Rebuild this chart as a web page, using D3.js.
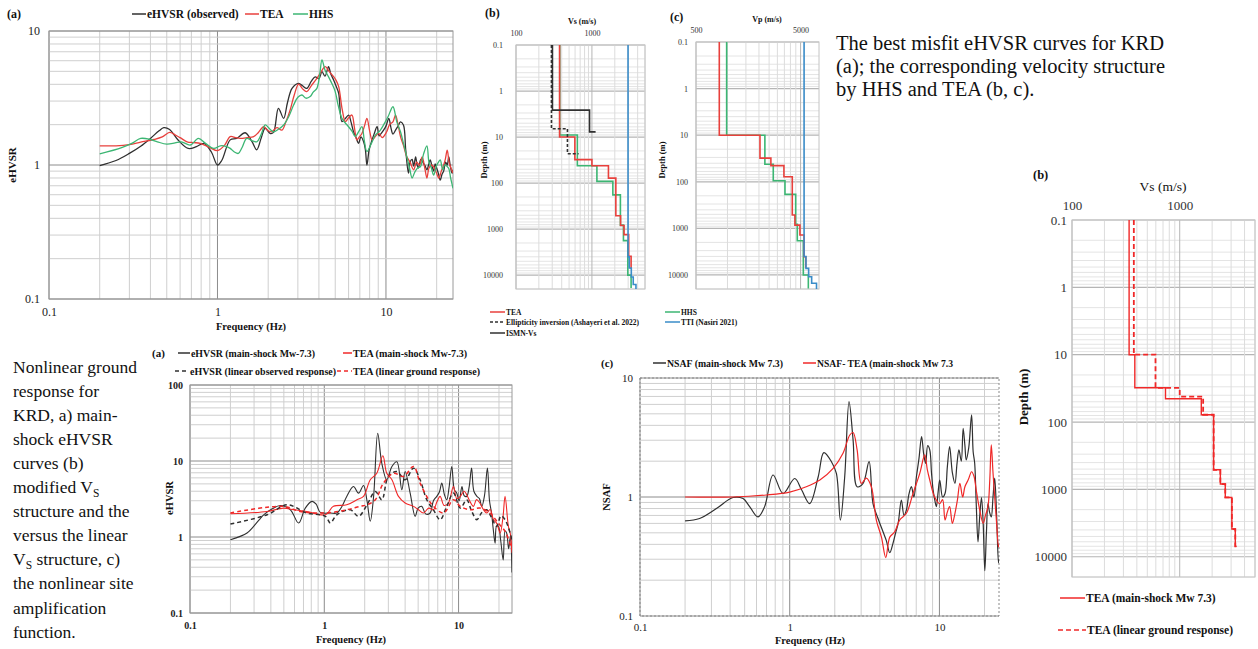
<!doctype html>
<html lang="en">
<head>
<meta charset="utf-8">
<title>KRD eHVSR curves and velocity structure</title>
<script src="https://d3js.org/d3.v7.min.js"></script>
<style>
  body { margin: 0; background: #fff; }
  svg { display: block; }
  svg text { font-family: "Liberation Serif", "Times New Roman", serif; }
</style>
</head>
<body>
<svg width="1258" height="649"></svg>
<script>
// ---------- data: best misfit eHVSR curves, KRD (top a) ----------
var obsA = [[0.2,0.99],[0.25,1.08],[0.3,1.22],[0.35,1.38],[0.4,1.58],[0.45,1.8],[0.48,1.9],[0.52,1.84],[0.58,1.55],[0.67,1.33],[0.75,1.37],[0.83,1.45],[0.92,1.25],[1.0,1.0],[1.06,1.08],[1.19,1.54],[1.3,1.58],[1.46,1.74],[1.6,1.5],[1.71,1.3],[1.82,1.6],[1.92,1.88],[2.05,1.72],[2.15,1.75],[2.3,2.65],[2.47,2.23],[2.6,2.9],[2.77,3.73],[3.03,4.07],[3.2,3.9],[3.39,3.73],[3.6,4.2],[3.8,4.55],[4.0,4.4],[4.17,4.97],[4.35,4.6],[4.56,5.42],[4.7,4.8],[4.89,4.31],[5.05,3.9],[5.24,3.43],[5.48,2.11],[5.7,2.2],[6.0,2.36],[6.2,2.1],[6.42,1.77],[6.65,1.6],[6.88,1.45],[7.1,1.62],[7.37,1.49],[7.55,1.3],[7.71,1.0],[7.95,1.3],[8.27,1.54],[8.5,1.7],[8.86,1.93],[9.1,1.65],[9.3,1.7],[9.68,1.82],[10.0,1.95],[10.4,2.23],[10.7,1.9],[11.0,1.7],[11.4,1.82],[11.8,1.95],[12.2,2.1],[12.7,1.99],[13.1,1.3],[13.6,0.87],[13.9,1.05],[14.3,1.1],[14.6,0.98],[15.0,1.15],[15.3,1.0],[15.6,0.95],[16.1,1.1],[16.7,1.03],[17.1,0.98],[17.5,0.92],[17.9,1.0],[18.3,1.09],[18.8,0.97],[19.2,0.9],[19.6,1.02],[20.0,0.95],[20.5,0.86],[21.0,0.77],[21.5,0.85],[22.0,0.9],[22.6,1.05],[23.1,1.0],[23.6,1.15],[24.1,0.98],[24.7,0.87],[25,0.92]];
var teaA = [[0.2,1.39],[0.25,1.39],[0.3,1.42],[0.35,1.48],[0.42,1.55],[0.47,1.62],[0.52,1.75],[0.56,1.68],[0.6,1.6],[0.66,1.49],[0.72,1.47],[0.79,1.45],[0.9,1.35],[1.0,1.28],[1.1,1.4],[1.19,1.63],[1.28,1.6],[1.36,1.58],[1.5,1.6],[1.64,1.63],[1.75,1.75],[1.88,1.93],[2.0,1.8],[2.1,1.77],[2.25,1.9],[2.41,1.82],[2.55,2.1],[2.7,2.57],[2.85,3.3],[3.03,4.02],[3.2,3.7],[3.39,3.53],[3.6,3.9],[3.89,4.43],[4.1,4.9],[4.36,5.42],[4.6,5.0],[4.89,4.56],[5.05,4.3],[5.24,3.84],[5.5,2.6],[5.74,2.11],[6.0,2.25],[6.28,2.36],[6.5,1.9],[6.72,1.54],[6.95,1.62],[7.2,1.72],[7.45,1.95],[7.71,2.23],[8.0,1.8],[8.27,1.54],[8.6,1.62],[9.06,1.72],[9.5,1.6],[10.1,1.77],[10.5,2.0],[11.0,2.1],[11.4,2.36],[11.8,2.0],[12.2,1.63],[12.7,1.4],[13.3,1.15],[13.9,1.05],[14.6,0.92],[15.2,1.05],[15.8,1.0],[16.4,1.15],[17.0,0.95],[17.5,0.8],[18.0,0.95],[18.6,1.0],[19.2,0.97],[19.9,0.88],[20.6,0.8],[21.3,0.9],[22.0,1.0],[22.5,1.1],[23.1,1.29],[23.7,1.05],[24.3,0.95],[25,0.87]];
var hhsA = [[0.2,1.21],[0.27,1.35],[0.31,1.45],[0.35,1.58],[0.4,1.55],[0.44,1.49],[0.5,1.43],[0.56,1.46],[0.61,1.49],[0.69,1.41],[0.77,1.58],[0.85,1.45],[0.95,1.33],[1.04,1.39],[1.12,1.38],[1.19,1.33],[1.26,1.25],[1.33,1.22],[1.4,1.35],[1.49,1.58],[1.6,1.52],[1.71,1.49],[1.82,1.7],[1.92,1.99],[2.05,1.85],[2.15,1.77],[2.3,1.85],[2.47,1.99],[2.65,2.3],[2.83,2.8],[3.0,3.2],[3.17,3.33],[3.35,3.15],[3.55,3.24],[3.7,3.5],[3.89,3.73],[4.05,4.8],[4.17,6.08],[4.35,5.1],[4.56,4.56],[4.8,4.0],[5.0,3.53],[5.2,2.8],[5.48,2.23],[5.75,2.05],[6.0,1.93],[6.3,1.78],[6.57,1.63],[6.9,1.78],[7.2,1.93],[7.45,1.5],[7.71,1.26],[8.2,1.45],[8.65,1.67],[9.2,1.8],[9.68,1.99],[10.3,2.3],[11.0,2.72],[11.6,2.1],[12.2,1.77],[12.7,1.45],[13.3,1.15],[13.8,0.95],[14.3,0.8],[14.8,0.88],[15.4,0.95],[16.0,0.97],[16.7,1.2],[17.5,1.39],[18.0,1.05],[18.6,0.95],[19.2,0.84],[19.9,0.98],[20.5,1.05],[21.0,1.09],[21.7,0.92],[22.3,1.0],[23.0,0.98],[23.6,0.94],[24.2,0.8],[25,0.67]];

// ---------- data: Vs / Vp profiles (top b, c) : layer boundaries (m) and velocities (m/s) ----------
var teaLinDepth = [0.1, 10, 31, 42, 78, 512, 834, 1318, 3880, 7030, 7030];
var teaLinVs    = [375, 596, 1000, 1650, 2065, 2384, 2649, 3049, 3281, 3370];
var teaMainDepth = [0.1, 10, 31, 45, 78, 512, 834, 1318, 3880, 7030, 7030];
var teaMainVs    = [339, 383, 738, 1586, 2065, 2384, 2649, 3049, 3281, 3370];
var hhsDepth = [0.1, 9, 42, 92, 180, 820, 1780, 10000, 19000];
var hhsVs    = [377, 643, 1163, 1886, 2371, 2600, 2970, 3280];
var ttiDepth = [0.1, 4000, 7000, 11000, 16000, 20000];
var ttiVs    = [2990, 3100, 3300, 3500, 3800];
var ismnDepth = [0.1, 2.6, 7.7, 7.7];
var ismnVs    = [302, 930, 1118];
var ellDepth = [0.1, 6.6, 23, 23];
var ellVs    = [293, 476, 668];
var teaVpDepth = [0.1, 10, 31, 45, 78, 518, 851, 1389, 4050, 7000];
var teaVp      = [835, 2045, 2600, 3465, 4165, 4412, 4928, 5400, 5600];
var hhsVpDepth = [0.1, 10, 42, 95, 186, 820, 1840, 10000, 19500];
var hhsVp      = [982, 2278, 2740, 3546, 4490, 4650, 5310, 5930];
var ttiVpDepth = [0.1, 4000, 7200, 10900, 15000, 20000];
var ttiVp      = [5400, 5630, 5970, 6380, 7100];

// ---------- data: nonlinear response (bottom a) ----------
var mainObs = [[0.2,0.92],[0.266,1.13],[0.3,1.4],[0.354,1.96],[0.41,2.35],[0.471,2.6],[0.559,2.28],[0.644,1.53],[0.722,2.4],[0.81,2.94],[0.87,2.7],[0.934,2.11],[1.11,2.07],[1.24,2.07],[1.35,2.5],[1.47,3.42],[1.65,4.62],[1.8,3.78],[1.96,4.77],[2.08,3.0],[2.2,1.61],[2.33,3.42],[2.5,23.2],[2.68,9.37],[2.92,5.66],[3.19,8.47],[3.47,9.76],[3.78,4.18],[4.0,7.28],[4.36,3.78],[4.75,1.87],[5.0,2.4],[5.32,2.53],[5.7,2.0],[6.14,2.07],[6.5,3.0],[6.88,3.42],[7.2,3.9],[7.5,5.12],[7.85,3.6],[8.17,3.09],[8.5,4.5],[8.9,8.47],[9.3,4.2],[9.69,3.78],[10.1,3.0],[10.6,4.62],[11.0,3.5],[11.5,3.42],[12.0,4.6],[12.5,8.05],[13.0,4.0],[13.7,3.42],[14.3,3.2],[14.9,2.53],[15.6,3.5],[16.4,8.05],[17.0,3.0],[17.6,2.07],[18.1,1.3],[18.7,0.83],[19.2,1.4],[19.8,1.38],[20.6,0.9],[21.5,0.5],[22.2,1.2],[22.8,1.13],[23.6,0.7],[24.3,1.0],[25,0.34]];
var mainTea = [[0.2,2.02],[0.375,2.17],[0.5,2.4],[0.59,2.28],[0.74,2.17],[1.02,1.96],[1.17,2.53],[1.47,2.65],[1.75,3.09],[1.96,3.42],[2.2,5.66],[2.46,6.9],[2.73,11.7],[2.92,6.9],[3.19,5.66],[3.57,3.42],[4.0,2.8],[4.62,2.53],[5.0,2.3],[5.48,2.07],[6.0,2.4],[6.5,2.28],[6.9,2.9],[7.29,3.42],[7.8,2.6],[8.4,2.8],[9.16,4.62],[9.7,3.2],[10.3,3.42],[11.0,4.0],[11.5,3.6],[12.2,2.9],[12.9,2.53],[13.6,3.1],[14.4,2.8],[15.3,2.3],[16.2,2.07],[17.2,2.3],[18.2,1.69],[19.3,1.5],[20.4,1.13],[21.4,1.8],[22.2,3.42],[23.5,1.38],[24.3,1.1],[25,0.62]];
var linObs = [[0.2,1.48],[0.375,1.96],[0.53,2.65],[0.74,2.07],[1.02,1.87],[1.11,1.53],[1.24,1.96],[1.56,2.28],[1.8,1.87],[2.08,2.65],[2.4,3.97],[2.68,3.09],[3.0,6.26],[3.47,7.28],[4.0,5.66],[4.62,8.05],[5.17,5.66],[5.8,3.09],[6.5,2.28],[7.29,1.69],[8.17,2.53],[9.16,3.78],[10.3,2.4],[11.5,3.09],[12.5,2.2],[13.7,1.69],[14.9,2.1],[16.2,2.28],[17.6,1.8],[19.2,1.38],[20.7,1.9],[22.2,1.69],[23.6,1.3],[25,0.92]];
var linTea = [[0.2,2.07],[0.5,2.53],[0.66,2.17],[1.02,2.07],[1.47,2.28],[1.85,2.53],[2.08,2.65],[2.4,3.09],[2.76,5.12],[3.28,6.9],[3.89,6.26],[4.62,8.47],[5.17,5.12],[5.98,3.09],[6.5,2.53],[7.74,2.07],[9.16,3.09],[10.3,2.53],[12.2,2.28],[14.4,2.4],[17.1,2.07],[19.7,1.53],[22.2,1.19],[25,0.68]];

// ---------- data: NSAF (bottom c) ----------
var nsafObs = [[0.2,0.63],[0.25,0.66],[0.324,0.8],[0.418,0.99],[0.488,0.97],[0.54,0.83],[0.614,0.68],[0.68,0.83],[0.774,1.53],[0.903,1.07],[1.08,1.43],[1.2,1.15],[1.36,0.88],[1.55,1.48],[1.69,2.36],[1.9,1.98],[2.05,1.58],[2.18,0.64],[2.33,1.48],[2.49,6.34],[2.65,3.02],[2.82,1.22],[3.09,1.3],[3.39,1.98],[3.6,0.88],[3.89,0.66],[4.2,0.51],[4.42,0.43],[4.66,0.34],[4.9,0.41],[5.1,0.5],[5.3,0.6],[5.57,0.94],[5.8,0.7],[6.02,0.78],[6.25,1.05],[6.5,1.22],[6.75,1.0],[7.02,1.48],[7.3,2.1],[7.6,3.22],[7.85,2.3],[8.09,1.92],[8.35,2.7],[8.62,2.49],[8.85,1.6],[9.07,1.15],[9.3,0.95],[9.54,0.83],[9.8,1.1],[10.05,1.39],[10.5,1.0],[10.9,1.07],[11.3,1.8],[11.7,2.65],[12.2,1.6],[12.7,1.3],[13.1,1.9],[13.5,2.49],[14.0,2.0],[14.4,3.78],[14.8,2.7],[15.1,2.05],[15.7,2.6],[16.4,4.9],[16.8,2.4],[17.2,1.92],[17.6,0.9],[18.1,0.42],[18.6,0.7],[19.1,0.99],[19.6,0.6],[20.1,0.24],[20.6,0.5],[21.1,0.88],[21.6,0.75],[22.2,0.68],[22.8,1.0],[23.4,1.44],[24.1,0.7],[24.8,0.28],[25,0.3]];
var nsafTea = [[0.2,1.0],[0.418,1.0],[0.698,1.04],[1.0,1.1],[1.29,1.22],[1.59,1.39],[1.95,1.74],[2.27,2.33],[2.52,3.32],[2.65,3.48],[2.82,2.49],[3.01,1.3],[3.25,1.44],[3.51,1.22],[3.79,0.64],[4.1,0.46],[4.38,0.31],[4.66,0.46],[5.03,0.51],[5.42,0.64],[6.02,0.73],[6.66,1.07],[7.39,1.58],[7.98,2.26],[8.3,1.7],[8.62,1.39],[9.29,1.0],[10.05,0.88],[10.5,0.95],[10.9,0.64],[11.3,0.75],[11.7,0.83],[12.2,0.6],[12.7,0.73],[13.2,0.95],[13.7,1.3],[14.3,1.0],[14.8,1.22],[15.6,1.4],[16.4,1.63],[17.0,1.5],[17.6,1.15],[18.5,0.8],[19.6,0.6],[20.3,0.7],[21.1,0.83],[21.7,1.4],[22.2,2.74],[22.8,1.6],[23.4,1.0],[24.1,0.6],[24.8,0.38],[25,0.4]];

var freqTicks = [0.1, 1, 10];
var depthTicks = [0.1, 1, 10, 100, 1000, 10000];

var BLACK = '#303030', RED = '#e8403c', GREEN = '#3cb673', BLUE = '#3a8cc8', RED2 = '#f02828';
var SERIF = '"Liberation Serif", "Times New Roman", serif';

var svg = d3.select('svg').attr('font-family', SERIF);
var clipId = 0;

function logGrid(lo, hi, base) {
  base = base || 1;
  var out = [];
  var d0 = Math.floor(Math.log10(lo / base)) - 1, d1 = Math.ceil(Math.log10(hi / base));
  for (var d = d0; d <= d1; d++) {
    for (var k = 1; k <= 9; k++) {
      var v = base * k * Math.pow(10, d);
      if (v >= lo * 0.999 && v <= hi * 1.001) out.push({v: v, major: k === 1});
    }
  }
  return out;
}

function txt(x, y, s, fs, opts) {
  opts = opts || {};
  var t = svg.append('text').attr('x', x).attr('y', y).attr('font-size', fs)
    .attr('font-family', SERIF).attr('fill', opts.fill || '#111').text(s);
  if (opts.bold) t.attr('font-weight', 'bold');
  if (opts.anchor) t.attr('text-anchor', opts.anchor);
  if (opts.rotate) t.attr('transform', 'rotate(-90,' + x + ',' + y + ')');
  return t;
}

function legendItem(x, y, len, color, dash, label, fs, fitWidth) {
  svg.append('line').attr('x1', x).attr('x2', x + len).attr('y1', y).attr('y2', y)
    .attr('stroke', color).attr('stroke-width', 1.5).attr('stroke-dasharray', dash || null);
  var t = svg.append('text').attr('x', x + len + 1).attr('y', y).attr('dy', '0.35em')
    .attr('font-size', fs).attr('font-weight', 'bold').attr('font-family', SERIF)
    .attr('fill', '#111').text(label);
  if (fitWidth) t.attr('textLength', fitWidth).attr('lengthAdjust', 'spacingAndGlyphs');
}

function addClip(x0, y0, x1, y1) {
  var id = 'clip' + (clipId++);
  svg.append('clipPath').attr('id', id).append('rect')
    .attr('x', x0).attr('y', y0).attr('width', x1 - x0).attr('height', y1 - y0);
  return 'url(#' + id + ')';
}

function styleTicks(sel, fs, bold, fill) {
  sel.attr('font-family', SERIF).attr('font-size', fs);
  sel.select('.domain').remove();
  sel.selectAll('.tick line').remove();
  sel.selectAll('text').attr('font-size', fs).attr('font-family', SERIF)
    .attr('font-weight', bold ? 'bold' : null).attr('fill', fill || '#222');
}

function spectrumPanel(p) {
  var x = d3.scaleLog().domain(p.xdom).range([p.x0, p.x1]);
  var y = d3.scaleLog().domain(p.ydom).range([p.y1, p.y0]);
  var g = svg.append('g');
  g.selectAll('line.vx').data(logGrid(p.xdom[0], p.xdom[1])).join('line')
    .attr('x1', d => x(d.v)).attr('x2', d => x(d.v)).attr('y1', p.y0).attr('y2', p.y1)
    .attr('stroke', d => d.major ? '#8c8c8c' : '#cfcfcf').attr('stroke-width', 1);
  g.selectAll('line.hy').data(logGrid(p.ydom[0], p.ydom[1])).join('line')
    .attr('x1', p.x0).attr('x2', p.x1).attr('y1', d => y(d.v)).attr('y2', d => y(d.v))
    .attr('stroke', d => d.major ? '#8c8c8c' : '#cfcfcf').attr('stroke-width', 1);
  g.append('rect').attr('x', p.x0).attr('y', p.y0).attr('width', p.x1 - p.x0).attr('height', p.y1 - p.y0)
    .attr('fill', 'none').attr('stroke', p.frameColor || '#9a9a9a').attr('stroke-dasharray', p.frameDash || null);

  var ax = g.append('g').attr('transform', 'translate(0,' + p.y1 + ')')
    .call(d3.axisBottom(x).tickValues(freqTicks).tickFormat(d3.format('~g')).tickSize(0).tickPadding(p.xpad));
  styleTicks(ax, p.tickFs, p.tickBold);
  var ay = g.append('g').attr('transform', 'translate(' + p.x0 + ',0)')
    .call(d3.axisLeft(y).tickValues(p.yticks).tickFormat(d3.format('~g')).tickSize(0).tickPadding(p.ypad));
  styleTicks(ay, p.tickFs, p.tickBold);

  var line = d3.line().x(d => x(d[0])).y(d => y(d[1])).curve(d3.curveCatmullRom.alpha(0.5));
  var clip = addClip(p.x0, p.y0, p.x1, p.y1);
  p.series.forEach(function(s) {
    g.append('path').datum(s.data).attr('d', line).attr('fill', 'none')
      .attr('stroke', s.color).attr('stroke-width', s.width || 1.3)
      .attr('stroke-dasharray', s.dash || null).attr('clip-path', clip);
  });
}

function steps(depth, vel) {
  var pts = [];
  for (var i = 0; i < vel.length; i++) {
    pts.push([vel[i], depth[i]]);
    pts.push([vel[i], depth[i + 1]]);
  }
  return pts;
}

function profilePanel(p) {
  var x = d3.scaleLog().domain(p.xdom).range([p.x0, p.x1]);
  var y = d3.scaleLog().domain([0.1, 20000]).range([p.y0, p.y1]);
  var g = svg.append('g');
  g.selectAll('line.hy').data(logGrid(0.1, 20000)).join('line')
    .attr('x1', p.x0).attr('x2', p.x1).attr('y1', d => y(d.v)).attr('y2', d => y(d.v))
    .attr('stroke', d => d.major ? '#b5b5b5' : '#e4e4e4').attr('stroke-width', d => d.major ? 1.2 : 1);
  g.selectAll('line.vx').data(logGrid(p.xdom[0], p.xdom[1], p.base)).join('line')
    .attr('x1', d => x(d.v)).attr('x2', d => x(d.v)).attr('y1', p.y0).attr('y2', p.y1)
    .attr('stroke', d => d.major ? '#b5b5b5' : '#dcdcdc').attr('stroke-width', 1);
  g.append('rect').attr('x', p.x0).attr('y', p.y0).attr('width', p.x1 - p.x0).attr('height', p.y1 - p.y0)
    .attr('fill', 'none').attr('stroke', '#c4c4c4');

  var ax = g.append('g').attr('transform', 'translate(0,' + p.y0 + ')')
    .call(d3.axisTop(x).tickValues(p.xticks).tickFormat(d3.format('d')).tickSize(0).tickPadding(p.xpad));
  styleTicks(ax, p.tickFs, false, '#333');
  var ay = g.append('g').attr('transform', 'translate(' + p.x0 + ',0)')
    .call(d3.axisLeft(y).tickValues(depthTicks).tickFormat(d3.format('~g')).tickSize(0).tickPadding(p.ypad));
  styleTicks(ay, p.tickFs, false, '#333');

  var line = d3.line().x(d => x(d[0])).y(d => y(d[1]));
  var clip = addClip(p.x0, p.y0 - 1, p.x1 + 4, p.y1 + 1);
  p.series.forEach(function(s) {
    g.append('path').datum(steps(s.depth, s.vel)).attr('d', line).attr('fill', 'none')
      .attr('stroke', s.color).attr('stroke-width', s.width || 1.6)
      .attr('stroke-dasharray', s.dash || null).attr('clip-path', clip);
  });
}

// ===== top (a): best misfit eHVSR =====
spectrumPanel({x0: 49, x1: 453, y0: 31, y1: 299, xdom: [0.1, 25], ydom: [0.1, 10],
  yticks: [0.1, 1, 10], xpad: 8, ypad: 9, tickFs: 12,
  series: [{data: obsA, color: BLACK}, {data: teaA, color: RED}, {data: hhsA, color: GREEN}]});
txt(7, 18, '(a)', 12, {bold: true});
legendItem(132, 14, 14, BLACK, null, 'eHVSR (observed)', 11.5);
legendItem(245, 14, 14, RED, null, 'TEA', 11.5);
legendItem(293, 14, 15, GREEN, null, 'HHS', 11.5);
txt(251, 330, 'Frequency (Hz)', 10.5, {bold: true, anchor: 'middle'});
txt(16, 165, 'eHVSR', 11, {bold: true, anchor: 'middle', rotate: true});

// ===== top (b): Vs =====
profilePanel({x0: 516, x1: 645, y0: 45, y1: 289, xdom: [100, 5000], xticks: [100, 1000], base: 1,
  xpad: 9, ypad: 13, tickFs: 8,
  series: [{depth: hhsDepth, vel: hhsVs, color: GREEN}, {depth: teaLinDepth, vel: teaLinVs, color: RED},
    {depth: ttiDepth, vel: ttiVs, color: BLUE}, {depth: ismnDepth, vel: ismnVs, color: BLACK},
    {depth: ellDepth, vel: ellVs, color: BLACK, dash: '3,2'}]});
txt(485, 17, '(b)', 12, {bold: true});
txt(582, 24, 'Vs (m/s)', 8, {bold: true, anchor: 'middle'});
txt(487, 160, 'Depth (m)', 8.5, {bold: true, anchor: 'middle', rotate: true});

// ===== top (c): Vp =====
profilePanel({x0: 696, x1: 819, y0: 42, y1: 289, xdom: [500, 7500], xticks: [500, 5000], base: 500,
  xpad: 9, ypad: 8, tickFs: 8,
  series: [{depth: hhsVpDepth, vel: hhsVp, color: GREEN}, {depth: teaVpDepth, vel: teaVp, color: RED},
    {depth: ttiVpDepth, vel: ttiVp, color: BLUE}]});
txt(670, 21, '(c)', 12, {bold: true});
txt(767, 22, 'Vp (m/s)', 8, {bold: true, anchor: 'middle'});
txt(665, 160, 'Depth (m)', 8.5, {bold: true, anchor: 'middle', rotate: true});

legendItem(490, 312, 15, RED, null, 'TEA', 7.5);
legendItem(665, 312, 15, GREEN, null, 'HHS', 7.5);
legendItem(490, 322, 15, BLACK, '3,2', 'Ellipticity inversion (Ashayeri et al. 2022)', 7.5);
legendItem(665, 322, 15, BLUE, null, 'TTI (Nasiri 2021)', 7.5);
legendItem(490, 333, 15, BLACK, null, 'ISMN-Vs', 7.5);

// ===== captions =====
var capTop = ['The best misfit eHVSR curves for KRD', '(a); the corresponding velocity structure', 'by HHS and TEA (b, c).'];
capTop.forEach(function(s, i) { txt(836, 50 + i * 23, s, 20.5); });

var capBot = [['Nonlinear ground'], ['response for'], ['KRD, a) main-'], ['shock eHVSR'], ['curves (b)'],
  ['modified V', 'S', ''], ['structure and the'], ['versus the linear'], ['V', 'S', ' structure, c)'],
  ['the nonlinear site'], ['amplification'], ['function.']];
capBot.forEach(function(parts, i) {
  var t = txt(13, 373 + i * 24.05, parts[0], 17.5);
  if (parts.length > 1) {
    t.append('tspan').attr('font-size', 11.5).attr('dy', 4).text(parts[1]);
    if (parts[2]) t.append('tspan').attr('dy', -4).text(parts[2]);
  }
});

// ===== bottom (a): nonlinear eHVSR =====
spectrumPanel({x0: 190, x1: 512, y0: 385, y1: 613, xdom: [0.1, 25], ydom: [0.1, 100],
  yticks: [0.1, 1, 10, 100], xpad: 9, ypad: 7, tickFs: 10, tickBold: true,
  series: [{data: mainObs, color: BLACK, width: 1.1}, {data: mainTea, color: RED2, width: 1.1},
    {data: linObs, color: BLACK, dash: '4,3', width: 1.5}, {data: linTea, color: RED2, dash: '4,3', width: 1.5}]});
txt(152, 357, '(a)', 11, {bold: true});
legendItem(178, 353, 12, BLACK, null, 'eHVSR (main-shock Mw-7.3)', 11, 124);
legendItem(343, 353, 9, RED2, null, 'TEA (main-shock Mw-7.3)', 11, 114);
legendItem(175, 371, 14, BLACK, '4,3', 'eHVSR (linear observed response)', 11, 146);
legendItem(337, 371, 15, RED2, '4,3', 'TEA (linear ground response)', 11, 127);
txt(351, 643, 'Frequency (Hz)', 10.5, {bold: true, anchor: 'middle'});
txt(173, 498, 'eHVSR', 10.5, {bold: true, anchor: 'middle', rotate: true});

// ===== bottom (c): NSAF =====
spectrumPanel({x0: 640, x1: 999, y0: 378, y1: 616, xdom: [0.1, 25], ydom: [0.1, 10],
  yticks: [0.1, 1, 10], xpad: 7, ypad: 7, tickFs: 11, frameColor: '#888', frameDash: '2,2',
  series: [{data: nsafObs, color: BLACK, width: 1.2}, {data: nsafTea, color: RED2, width: 1.2}]});
txt(601, 367, '(c)', 11, {bold: true});
legendItem(653, 363, 13, BLACK, null, 'NSAF (main-shock Mw 7.3)', 11, 116);
legendItem(803, 363, 13, RED2, null, 'NSAF- TEA (main-shock Mw 7.3', 11, 136);
txt(810, 644, 'Frequency (Hz)', 10.5, {bold: true, anchor: 'middle'});
txt(610, 497, 'NSAF', 10.5, {bold: true, anchor: 'middle', rotate: true});

// ===== right (b): modified Vs =====
profilePanel({x0: 1072, x1: 1255, y0: 220, y1: 577, xdom: [100, 5000], xticks: [100, 1000], base: 1,
  xpad: 10, ypad: 5, tickFs: 13,
  series: [{depth: teaMainDepth, vel: teaMainVs, color: RED2, width: 1.4},
    {depth: teaLinDepth, vel: teaLinVs, color: RED2, dash: '5,3', width: 1.8}]});
txt(1033, 179, '(b)', 12.5, {bold: true});
txt(1163, 191, 'Vs (m/s)', 13.5, {anchor: 'middle'});
txt(1028, 397, 'Depth (m)', 13, {bold: true, anchor: 'middle', rotate: true});
legendItem(1060, 598, 25, RED2, null, 'TEA (main-shock Mw 7.3)', 11.5);
legendItem(1058, 630, 28, RED2, '5,3', 'TEA (linear ground response)', 11.5);
</script>
</body>
</html>
